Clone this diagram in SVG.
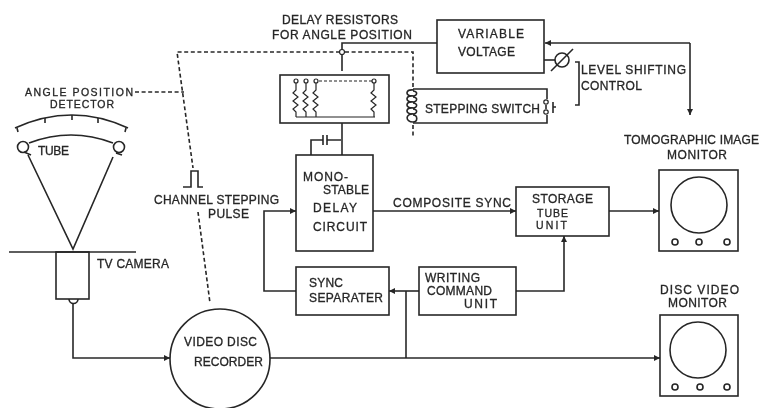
<svg xmlns="http://www.w3.org/2000/svg" width="760" height="408" viewBox="0 0 760 408">
<style>
text{font-family:"Liberation Sans",Arial,sans-serif;font-size:12px;fill:#262626;stroke:#262626;stroke-width:.3}
.n{font-size:10.500px}
.s{fill:none;stroke:#262626;stroke-width:1.6}
.t{fill:none;stroke:#262626;stroke-width:1.2}
.d{fill:none;stroke:#262626;stroke-width:1.6;stroke-dasharray:4 2.600}
.a{marker-end:url(#arrow)}
</style>
<defs>
<marker id="arrow" viewBox="0 0 6 6" refX="6" refY="3" markerWidth="6" markerHeight="6" markerUnits="userSpaceOnUse" orient="auto"><path d="M0 0L6 3L0 6z" fill="#262626"/></marker>
<filter id="soft" x="0" y="0" width="100%" height="100%"><feGaussianBlur stdDeviation="0.35"/></filter>
</defs>
<rect width="760" height="408" fill="#fff"/>
<g filter="url(#soft)">
<g id="connectors">
<path class="s" d="M437 43H342V71"/>
<path class="s" d="M342 123V155"/>
<path class="s" d="M311 155V140H323M327 140H341"/>
<path class="s" d="M323 135V145M327 135V145"/>
<path class="d" d="M135 92H184"/>
<path class="d" d="M340 52H177L193 168"/>
<path class="d" d="M345 52H413V88"/>
<path class="d" d="M413 125V138"/>
<path class="d" d="M198 212L210 303"/>
<path class="s" d="M183 187H191V171H198V187H203"/>
<path class="s a" d="M690 43H545"/>
<path class="s a" d="M690 43V115"/>
<path class="s a" d="M373 211H516"/>
<path class="s a" d="M296 291H264V211H296"/>
<path class="s a" d="M516 291H564V236"/>
<path class="s a" d="M419 291H389"/>
<path class="s" d="M406 291V358"/>
<path class="s a" d="M270 358H660"/>
<path class="s a" d="M73 304V358H170"/>
<path class="s a" d="M609 211H659"/>
<path class="s" d="M544 60H555"/>
</g>
<g id="angle-detector">
<path class="s" d="M15 128Q72 102 128 128"/>
<path class="s" d="M17 128L18 132M45 118L45 123M72 115V120M98 118L98 123M126 128L125 132"/>
<text class="n" x="25" y="96" textLength="108">ANGLE POSITION</text>
<text class="n" x="50" y="108" textLength="64">DETECTOR</text>
</g>
<g id="tube">
<circle class="s" cx="23" cy="147" r="5.500"/>
<circle class="s" cx="119" cy="147" r="5.500"/>
<path class="s" d="M29 143Q71 127 113 143"/>
<path class="s" d="M24 152L31 155M116 153L122 155"/>
<path class="s" d="M28 155L73 249L113 157"/>
<text x="38" y="155" textLength="31">TUBE</text>
</g>
<g id="tv-camera">
<path class="s" d="M9 252H136"/>
<rect class="s" x="56" y="252" width="33" height="47"/>
<path class="s" d="M69 299A4.500 4.500 0 0 0 78 299"/>
<text x="97" y="268" textLength="72">TV CAMERA</text>
</g>
<g id="channel-pulse">
<text x="154" y="204" textLength="125">CHANNEL STEPPING</text>
<text x="208" y="218" textLength="41">PULSE</text>
</g>
<g id="delay-resistors">
<text x="282" y="24" textLength="116">DELAY RESISTORS</text>
<text x="272" y="39" textLength="140">FOR ANGLE POSITION</text>
<circle cx="342" cy="52" r="2.500" fill="#fff" stroke="#262626" stroke-width="1.200"/>
<rect class="s" x="280" y="75" width="109" height="48"/>
<circle class="t" cx="296" cy="81" r="2"/>
<circle class="t" cx="306" cy="81" r="2"/>
<circle class="t" cx="316" cy="81" r="2"/>
<circle class="t" cx="374" cy="81" r="2"/>
<path class="t" stroke-dasharray="3 2" d="M319 81H372"/>
<path class="t" d="M296 83V90L293 93L298 97L293 101L298 105L293 109L296 112V117"/>
<path class="t" d="M306 83V90L303 93L308 97L303 101L308 105L303 109L306 112V117"/>
<path class="t" d="M316 83V90L313 93L318 97L313 101L318 105L313 109L316 112V117"/>
<path class="t" d="M374 83V90L371 93L376 97L371 101L376 105L371 109L374 112V117"/>
<path class="t" d="M296 117H375"/>
</g>
<g id="variable-voltage">
<rect class="s" x="437" y="20" width="107" height="53"/>
<text x="458" y="38" textLength="66">VARIABLE</text>
<text x="458" y="56" textLength="57">VOLTAGE</text>
<circle class="s" cx="562" cy="60" r="7"/>
<path class="s" d="M551 71L573 49"/>
</g>
<g id="level-shifting">
<path class="s" d="M575 62H579V105H575"/>
<text x="581" y="74" textLength="105">LEVEL SHIFTING</text>
<text x="581" y="90" textLength="61">CONTROL</text>
</g>
<g id="stepping-switch">
<path class="s" d="M413 89H547V99M546 105V109M547 115V123H413"/>
<path class="s" d="M414 90C405 89 405 96 412 96C418 96 418 91 413 91M414 96C405 95 405 102 412 102C418 102 418 97 413 97M414 102C405 101 405 108 412 108C418 108 418 103 413 103M414 108C405 107 405 114 412 114C418 114 418 109 413 109M414 114C405 113 405 122 413 122C418 122 418 115 413 115"/>
<circle class="t" cx="546" cy="102" r="2.200"/>
<circle class="t" cx="546" cy="112" r="2.200"/>
<path class="s" d="M553 102V113M553 107H556"/>
<text x="425" y="113" textLength="115">STEPPING SWITCH</text>
</g>
<g id="monostable-delay">
<rect class="s" x="296" y="155" width="77" height="96"/>
<text x="303" y="181" textLength="45">MONO-</text>
<text x="323" y="194" textLength="46">STABLE</text>
<text x="313" y="212" textLength="44">DELAY</text>
<text x="313" y="231" textLength="54">CIRCUIT</text>
</g>
<g id="composite-sync">
<text x="393" y="207" textLength="118">COMPOSITE SYNC</text>
</g>
<g id="storage-tube">
<rect class="s" x="516" y="187" width="93" height="49"/>
<text x="532" y="203" textLength="61">STORAGE</text>
<text class="n" x="537" y="217" textLength="31">TUBE</text>
<text class="n" x="536" y="229" textLength="31">UNIT</text>
</g>
<g id="sync-separater">
<rect class="s" x="296" y="267" width="93" height="48"/>
<text x="309" y="287" textLength="34">SYNC</text>
<text x="309" y="302" textLength="74">SEPARATER</text>
</g>
<g id="writing-command">
<rect class="s" x="419" y="267" width="97" height="48"/>
<text x="425" y="282" textLength="55">WRITING</text>
<text x="427" y="295" textLength="65">COMMAND</text>
<text x="464" y="308" textLength="33">UNIT</text>
</g>
<g id="video-disc-recorder">
<circle class="s" cx="220" cy="359" r="50"/>
<text x="184" y="346" textLength="73">VIDEO DISC</text>
<text x="194" y="366" textLength="69">RECORDER</text>
</g>
<g id="tomographic-monitor">
<text x="624" y="144" textLength="135">TOMOGRAPHIC IMAGE</text>
<text x="667" y="159" textLength="60">MONITOR</text>
<rect class="s" x="659" y="170" width="79" height="81"/>
<circle class="s" cx="699" cy="205" r="28"/>
<circle class="s" cx="675" cy="242" r="3"/>
<circle class="s" cx="699" cy="242" r="3"/>
<circle class="s" cx="727" cy="242" r="3"/>
</g>
<g id="disc-video-monitor">
<text x="660" y="294" textLength="79">DISC VIDEO</text>
<text x="668" y="307" textLength="59">MONITOR</text>
<rect class="s" x="660" y="315" width="78" height="81"/>
<circle class="s" cx="698" cy="350" r="28"/>
<circle class="s" cx="675" cy="387" r="3"/>
<circle class="s" cx="700" cy="387" r="3"/>
<circle class="s" cx="727" cy="387" r="3"/>
</g>
</g>
</svg>
